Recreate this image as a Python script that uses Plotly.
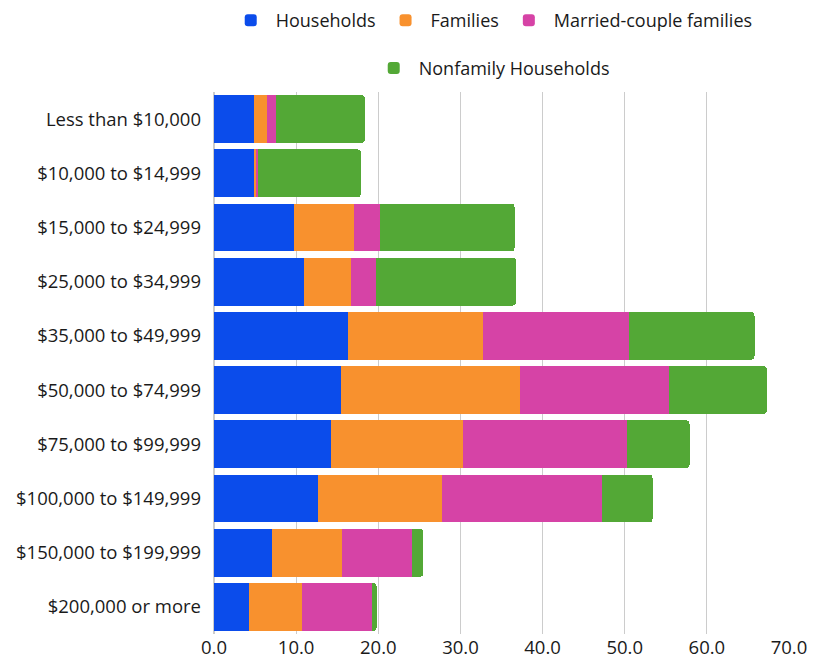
import plotly.graph_objects as go

categories = ["Less than $10,000", "$10,000 to $14,999", "$15,000 to $24,999",
              "$25,000 to $34,999", "$35,000 to $49,999", "$50,000 to $74,999",
              "$75,000 to $99,999", "$100,000 to $149,999", "$150,000 to $199,999",
              "$200,000 or more"]
households = [4.9, 4.9, 9.7, 10.9, 16.3, 15.4, 14.3, 12.6, 7.0, 4.3]
families = [1.6, 0.25, 7.4, 5.8, 16.5, 21.8, 16.0, 15.2, 8.6, 6.4]
married = [1.1, 0.25, 3.1, 3.0, 17.7, 18.2, 20.0, 19.4, 8.5, 8.5]
nonfamily = [10.8, 12.5, 16.4, 17.1, 15.3, 11.9, 7.6, 6.2, 1.4, 0.6]

series = [("Households", households, "#0B4CEB", "legend"),
          ("Families", families, "#F8912E", "legend"),
          ("Married-couple families", married, "#D643A6", "legend"),
          ("Nonfamily Households", nonfamily, "#53A836", "legend2")]

fig = go.Figure()
for name, vals, color, lg in series:
    fig.add_trace(go.Bar(y=categories, x=vals, name=name, orientation="h",
                         marker=dict(color=color, line=dict(width=0)),
                         legend=lg))

font = "Open Sans, sans-serif"
fig.update_layout(
    width=815, height=650,
    barmode="stack", bargap=0.115, barcornerradius=4,
    plot_bgcolor="white", paper_bgcolor="white",
    margin=dict(l=206, r=34, t=84, b=24, autoexpand=False),
    font=dict(family=font, size=18.5, color="#1A1A1A"),
    xaxis=dict(range=[0, 70], dtick=10, tickformat=".1f", showgrid=True,
               gridcolor="#CCCCCC", gridwidth=1, zeroline=True, zerolinecolor="#CCCCCC",
               automargin=False, ticks="", tickfont=dict(size=18.5)),
    yaxis=dict(autorange="reversed", categoryorder="array", categoryarray=categories,
               automargin=False, ticks="", ticklabelstandoff=12,
               tickfont=dict(size=18.5)),
    legend=dict(orientation="h", x=0.483, xanchor="center", y=1.166, yanchor="top",
                font=dict(size=18), traceorder="normal", itemwidth=40),
    legend2=dict(orientation="h", x=0.483, xanchor="center", y=1.078, yanchor="top",
                 font=dict(size=18), itemwidth=40),
)
fig.write_html("out.html")
